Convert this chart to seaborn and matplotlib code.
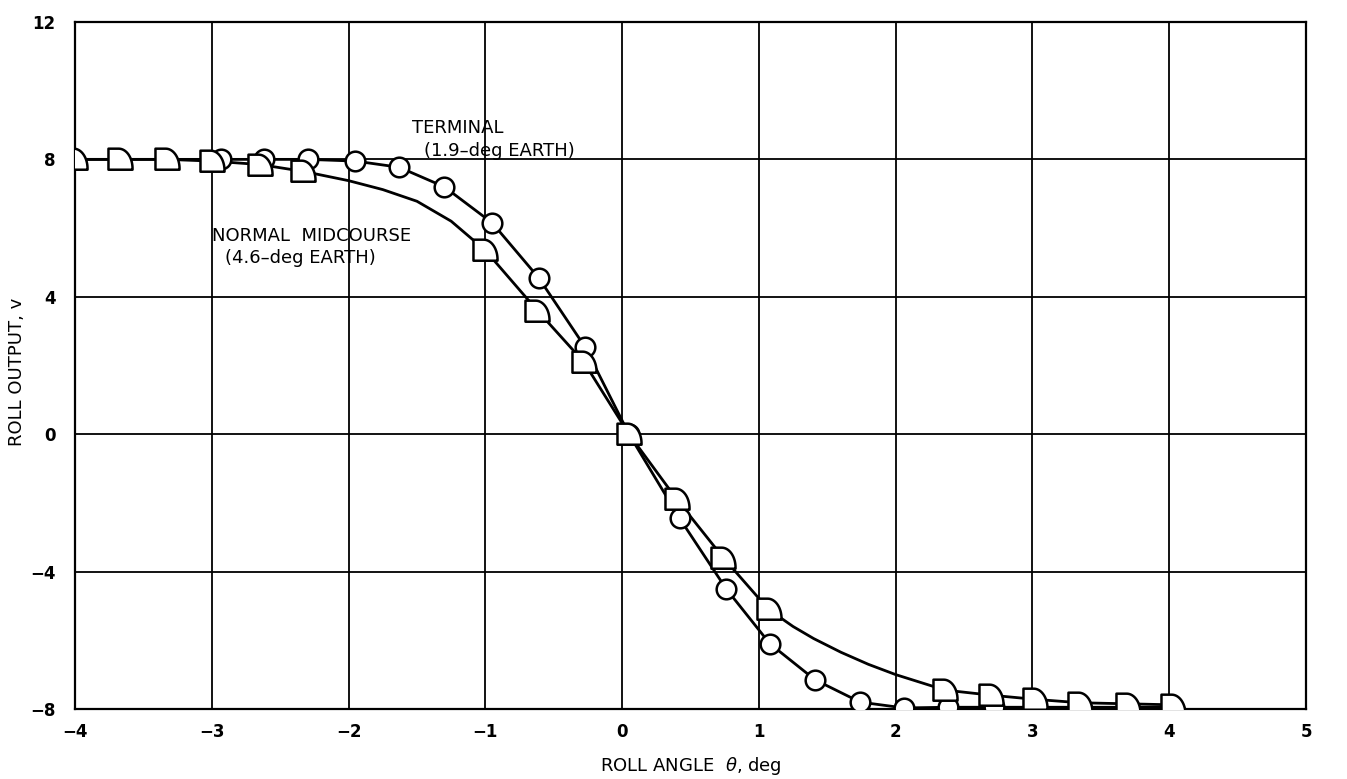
import numpy as np
import pandas as pd
import matplotlib
matplotlib.use("Agg")
import matplotlib.pyplot as plt
from matplotlib.path import Path
import seaborn as sns

# ---------------- data ----------------
# TERMINAL (1.9-deg EARTH): circle markers
terminal_x = [-2.93, -2.62, -2.30, -1.95, -1.63, -1.30, -0.95, -0.61, -0.27, 0.05,
              0.42, 0.76, 1.08, 1.41, 1.74, 2.06, 2.38, 2.72]
terminal_v = [8.0, 8.0, 8.0, 7.95, 7.77, 7.2, 6.15, 4.55, 2.53, 0.0,
              -2.45, -4.5, -6.1, -7.15, -7.8, -7.97, -7.95, -7.95]
# faired curve ends beyond the markers
terminal_curve_x = [-4.0] + terminal_x + [4.0]
terminal_curve_v = [8.0] + terminal_v + [-7.95]

# NORMAL MIDCOURSE (4.6-deg EARTH): quarter-round markers
midcourse_x = [-4.0, -3.67, -3.33, -3.0, -2.65, -2.33, -1.0, -0.62, -0.28, 0.05,
               0.40, 0.74, 1.07, 2.36, 2.70, 3.02, 3.35, 3.70, 4.03]
midcourse_v = [8.0, 8.0, 8.0, 7.95, 7.85, 7.65, 5.35, 3.6, 2.1, 0.0,
               -1.9, -3.6, -5.1, -7.45, -7.6, -7.72, -7.82, -7.85, -7.88]
# extra points read along the faired curve between markers
midcourse_fair_x = [-2.0, -1.75, -1.5, -1.25, 1.25, 1.4, 1.6, 1.8, 2.0, 2.2]
midcourse_fair_v = [7.38, 7.12, 6.78, 6.2, -5.6, -5.95, -6.35, -6.7, -7.0, -7.25]

x_ticks = [-4, -3, -2, -1, 0, 1, 2, 3, 4, 5]
y_ticks = [-8, -4, 0, 4, 8, 12]

# ---------------- figure ----------------
sns.set_theme(style="white")
plt.rcParams["font.family"] = ["DejaVu Sans"]

fig = plt.figure(figsize=(13.47, 7.79), dpi=100)
ax = fig.add_axes([0.0557, 0.0899, 0.9139, 0.8819])

term_df = pd.DataFrame({"x": terminal_curve_x, "v": terminal_curve_v})
mid_line = sorted(zip(midcourse_x + midcourse_fair_x, midcourse_v + midcourse_fair_v))
mid_df = pd.DataFrame(mid_line, columns=["x", "v"])

sns.lineplot(data=term_df, x="x", y="v", ax=ax, color="black", lw=2.0,
             sort=False, estimator=None, zorder=3)
sns.lineplot(data=mid_df, x="x", y="v", ax=ax, color="black", lw=2.0,
             sort=False, estimator=None, zorder=3)

# quarter-round marker: square bottom-left, rounded top-right
t = np.linspace(0, np.pi / 2, 24)
cx, cy, rx, ry = -0.15, -0.75, 1.15, 1.65
arc = np.column_stack([cx + rx * np.cos(t), cy + ry * np.sin(t)])
verts = np.vstack([[[-1.0, -0.85], [1.0, -0.85], [1.0, -0.75]], arc,
                   [[-1.0, 0.9], [-1.0, -0.85]]])
codes = [Path.MOVETO] + [Path.LINETO] * (len(verts) - 2) + [Path.CLOSEPOLY]
quarter = Path(verts, codes)

sns.scatterplot(x=terminal_x, y=terminal_v, ax=ax, marker="o", s=200,
                facecolor="white", edgecolor="black", linewidth=1.8, zorder=4)
sns.scatterplot(x=midcourse_x, y=midcourse_v, ax=ax, marker=quarter, s=300,
                facecolor="white", edgecolor="black", linewidth=1.8, zorder=5)

ax.set_xlim(-4, 5)
ax.set_ylim(-8, 12)
ax.set_xticks(x_ticks)
ax.set_yticks(y_ticks)
ax.set_xticklabels([("\u2212" + str(-v)) if v < 0 else str(v) for v in x_ticks],
                   fontsize=12, fontweight="bold")
ax.set_yticklabels([("\u2212" + str(-v)) if v < 0 else str(v) for v in y_ticks],
                   fontsize=12, fontweight="bold")
ax.tick_params(axis="both", length=0, colors="black")
ax.tick_params(axis="x", pad=10)
ax.tick_params(axis="y", pad=14)

ax.grid(True, color="black", lw=1.3)
ax.set_axisbelow(True)
for sp in ax.spines.values():
    sp.set_color("black")
    sp.set_linewidth(1.6)

ax.set_xlabel(r"ROLL ANGLE  $\theta$, deg", fontsize=13, labelpad=10, color="black")
ax.set_ylabel("ROLL OUTPUT, v", fontsize=13, color="black")
ax.yaxis.set_label_coords(-0.040, 0.49)

ax.text(-1.54, 8.9, "TERMINAL", fontsize=13, ha="left", va="center", color="black")
ax.text(-1.45, 8.25, "(1.9\u2013deg EARTH)", fontsize=13, ha="left", va="center", color="black")
ax.text(-3.0, 5.77, "NORMAL  MIDCOURSE", fontsize=13, ha="left", va="center", color="black")
ax.text(-2.9, 5.12, "(4.6\u2013deg EARTH)", fontsize=13, ha="left", va="center", color="black")

fig.savefig("out.png", dpi=100, facecolor="white")
